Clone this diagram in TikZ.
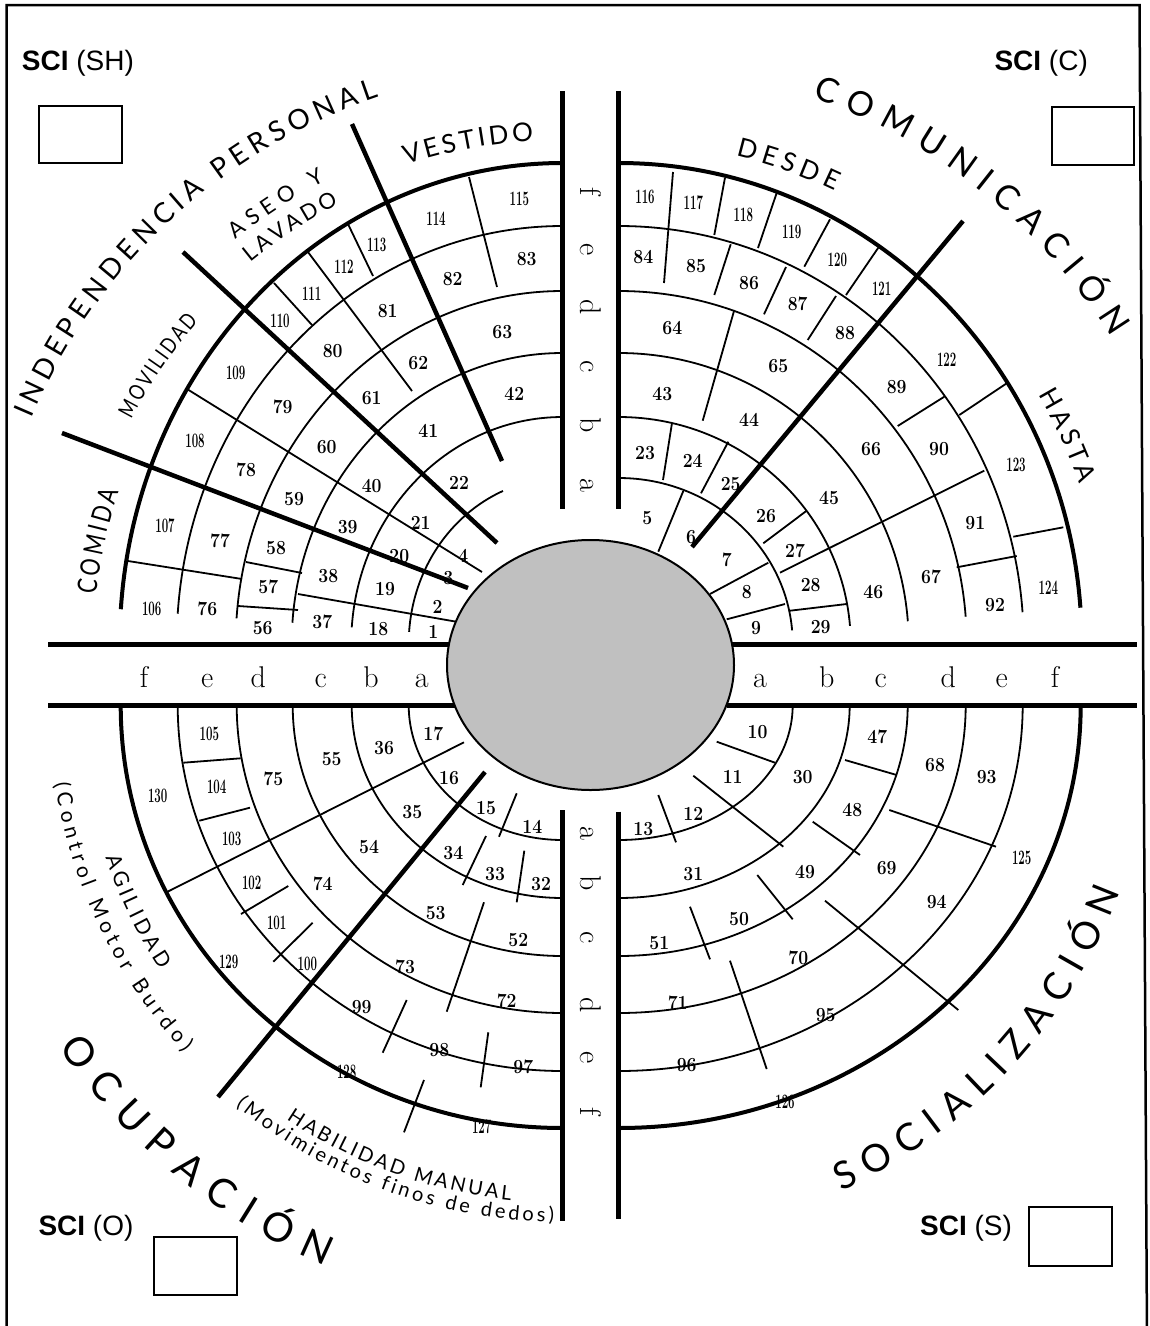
\documentclass[tikz,border=0pt]{standalone}
\usepackage{fontspec}
\usepackage{graphicx}
\usetikzlibrary{decorations.text}
\newfontfamily\lato{Lato}
\newfontfamily\latonarrow[FakeStretch=0.8]{Lato}
\newfontfamily\libsans{Liberation Sans}
\definecolor{ellgray}{RGB}{192,192,192}
\newcommand\kup{0.5523}
\newcommand\kdn{0.5523}
\newcommand\arcUL[3]{\draw[#3] (562.7,{644-#2}) .. controls ({562.7-\kup*#1},{644-#2}) and ({562.7-#1},{644-\kup*#2}) .. ({562.7-#1},644);}
\newcommand\arcUR[3]{\draw[#3] (618.7,{644-#2}) .. controls ({618.7+\kup*#1},{644-#2}) and ({618.7+#1},{644-\kup*#2}) .. ({618.7+#1},644);}
\newcommand\arcLL[3]{\draw[#3] ({562.7-#1},705) .. controls ({562.7-#1},{705+\kdn*#2}) and ({562.7-\kdn*#1},{705+#2}) .. (562.7,{705+#2});}
\newcommand\arcLR[3]{\draw[#3] ({618.7+#1},705) .. controls ({618.7+#1},{705+\kdn*#2}) and ({618.7+\kdn*#1},{705+#2}) .. (618.7,{705+#2});}
\tikzset{
  thinln/.style={line width=1.8pt},
  thickdiv/.style={line width=4.5pt},
  barln/.style={line width=5pt},
  outerarc/.style={line width=4pt},
  num/.style={font=\fontsize{20}{20}\selectfont\bfseries, inner sep=0pt},
  numc/.style={font=\fontsize{20.5}{20.5}\selectfont\bfseries, inner sep=0pt},
  bandl/.style={font=\fontsize{30}{30}\selectfont, inner sep=0pt, anchor=base},
  bandv/.style={font=\fontsize{30}{30}\selectfont, inner sep=0pt, anchor=base, rotate=-90},
  sci/.style={font=\libsans\fontsize{28}{28}\selectfont, inner sep=0pt, anchor=base west},
  scibox/.style={line width=2pt},
  curv/.style 2 args={decorate, decoration={text along path, text align={fit to path}, text={|\lato\fontsize{#1}{#1}\selectfont|#2}}},
  curvn/.style 2 args={decorate, decoration={text along path, text align={fit to path}, text={|\latonarrow\fontsize{#1}{#1}\selectfont|#2}}}
}
\begin{document}
\begin{tikzpicture}[x=1pt,y=1pt]
\begin{scope}[yscale=-1]
\useasboundingbox (0,0) rectangle (1150,1326);
% frame
\draw[line width=2.5pt] (6.7,1340) -- (6.7,5) -- (1139.5,5) -- (1147,1340);
% SCI boxes
\draw[scibox] (39.3,106) rectangle (121.7,163.3);
\draw[scibox] (1052.3,106.7) rectangle (1134.3,165);
\draw[scibox] (154.3,1237.3) rectangle (237.3,1295);
\draw[scibox] (1029.3,1207.3) rectangle (1112.3,1265.7);
\node[sci] (sciSH) at (21.7,70) {\textbf{SCI} (SH)};
\node[sci] (sciC) at (994.3,70) {\textbf{SCI} (C)};
\node[sci] (sciO) at (38.3,1235) {\textbf{SCI} (O)};
\node[sci] (sciS) at (920,1235) {\textbf{SCI} (S)};
% ---------- arcs
\begin{scope}
\clip (562.7,644) -- (-300,576.1) -- (-300,-100) -- (570,-100) -- cycle;
\arcUL{443}{481}{outerarc}
\arcUL{386}{418}{thinln}
\arcUL{327}{353}{thinln}
\arcUL{271}{291}{thinln}
\arcUL{211.5}{227}{thinln}
\end{scope}
\begin{scope}
\clip (562.7,644) -- (-300,576.1) -- (-300,-1000) -- (-78.9,-1000) -- cycle;
\arcUL{154}{166}{thinln}
\end{scope}
\begin{scope}
\clip (618.7,644) -- (1450,578.6) -- (1450,-100) -- (610,-100) -- cycle;
\arcUR{463}{481}{outerarc}
\arcUR{405}{418}{thinln}
\arcUR{348}{353}{thinln}
\arcUR{290}{291}{thinln}
\arcUR{232}{227}{thinln}
\arcUR{174}{166}{thinln}
\end{scope}
\arcLL{442}{423}{outerarc}
\arcLL{385}{366}{thinln}
\arcLL{326}{308}{thinln}
\arcLL{270}{251}{thinln}
\arcLL{211}{193}{thinln}
\arcLL{154}{135}{thinln}
\arcLR{462}{423}{outerarc}
\arcLR{404}{366}{thinln}
\arcLR{347}{308}{thinln}
\arcLR{289}{251}{thinln}
\arcLR{231}{193}{thinln}
\arcLR{174}{135}{thinln}
% ---------- thin dividers UL
\draw[thinln] (128,561) -- (242,579);
\draw[thinln] (246,562) -- (302,573);
\draw[thinln] (238,606) -- (298,610);
\draw[thinln] (298,594) -- (458,622);
\draw[thinln] (187,389) -- (482,572);
\draw[thinln] (274,283) -- (312,325);
\draw[thinln] (308,252) -- (412,391);
\draw[thinln] (348,224) -- (373,276);
\draw[thinln] (469,177) -- (497,287);
% UR
\draw[thinln] (673,172) -- (664,283);
\draw[thinln] (725,177.7) -- (714.3,235);
\draw[thinln] (777,192) -- (758,248);
\draw[thinln] (830,219.3) -- (804.3,266.7);
\draw[thinln] (878.3,247.7) -- (846,295);
\draw[thinln] (1006.7,383.3) -- (959.3,415);
\draw[thinln] (1063.3,527.3) -- (1013.3,536.7);
\draw[thinln] (730.7,244.3) -- (714.3,295);
\draw[thinln] (786,267) -- (764,314.3);
\draw[thinln] (836,296) -- (807.7,340);
\draw[thinln] (944.3,396.7) -- (897.7,426);
\draw[thinln] (984.3,470.7) -- (780,572.7);
\draw[thinln] (1016.7,556) -- (956.7,567.3);
\draw[thinln] (734.3,310) -- (702.7,420.7);
\draw[thinln] (672,423) -- (663,480);
\draw[thinln] (728.3,441.7) -- (701,493.3);
\draw[thinln] (763.3,543.3) -- (806.7,510.7);
\draw[thinln] (790,610.7) -- (846.7,604);
\draw[thinln] (683.3,491) -- (658.3,551.7);
\draw[thinln] (710,594) -- (768.3,562.7);
\draw[thinln] (726.7,619.3) -- (785,604);
% LR
\draw[thinln] (716.7,741.7) -- (775,762.7);
\draw[thinln] (693.3,775.7) -- (783.3,846.7);
\draw[thinln] (658.3,795) -- (676,842.3);
\draw[thinln] (845,760) -- (896.7,775);
\draw[thinln] (812.7,821.7) -- (860,855);
\draw[thinln] (757.3,875) -- (792.7,919.3);
\draw[thinln] (690,906.7) -- (710,959.3);
\draw[thinln] (889.3,810) -- (996,846.7);
\draw[thinln] (825,900.7) -- (958.3,1010);
\draw[thinln] (730,960.7) -- (766.7,1069);
% LL
\draw[thinln] (464,742.3) -- (167,892);
\draw[thinln] (183.3,762.7) -- (240.7,758.3);
\draw[thinln] (199.3,820.7) -- (250,807.7);
\draw[thinln] (241,914) -- (288.3,886);
\draw[thinln] (273.3,961.7) -- (312.7,922.7);
\draw[thinln] (516.7,793.3) -- (499,836.7);
\draw[thinln] (486,836) -- (462.7,885);
\draw[thinln] (524.3,850.7) -- (516.7,902.3);
\draw[thinln] (484,902.3) -- (446.7,1011.7);
\draw[thinln] (488.3,1032.3) -- (480.7,1087.3);
\draw[thinln] (406.7,1000) -- (382.7,1052.7);
\draw[thinln] (424,1080) -- (404,1132.3);
% ---------- thick dividers
\draw[thickdiv] (62,433) -- (468,588);
\draw[thickdiv] (183,252) -- (497,543);
\draw[thickdiv] (352,124) -- (502,461);
\draw[thickdiv] (963,221) -- (692,547);
\draw[thickdiv] (485,772) -- (218,1097);
% ---------- bars
\draw[barln] (562.7,91) -- (562.7,509);
\draw[barln] (618.7,91) -- (618.7,509);
\draw[barln] (562.7,810) -- (562.7,1220.7);
\draw[barln] (618.7,811.7) -- (618.7,1219);
\draw[barln] (48.3,644) -- (455,644);
\draw[barln] (48.3,705) -- (455,705);
\draw[barln] (727,644) -- (1137,644);
\draw[barln] (727,705) -- (1137,705);
% ---------- centre ellipse
\draw[line width=2pt, fill=ellgray] (590.5,665) ellipse[x radius=143.5, y radius=125];
% ---------- numbers
\foreach \n/\x/\y in {1/433.3/632.3, 2/437.7/606.7, 3/448.3/578.3, 4/463.3/556, 5/647.3/518.3, 6/691/536.7, 7/726.7/560, 8/746.7/592.3, 9/756/628.3, 10/757.5/731.7, 11/732.7/776.7, 12/693.3/814, 13/643.3/829, 14/532.3/827.3, 15/486/808.3, 16/449/777.7, 17/433.3/734,
 18/378.3/629, 19/385/589.3, 20/399.3/555.7, 21/420.7/523.3, 22/459/483.3, 23/645/453.3, 24/692.7/460.7, 25/730.7/484, 26/766/516, 27/795/550.7, 28/810.7/585, 29/820.7/626.7, 30/802.7/776.7, 31/693.3/874, 32/541/884, 33/495/874, 34/453.3/853.3, 35/412.3/811.7, 36/384/748.3,
 37/322.3/622.3, 38/328.3/575.7, 39/347.7/526.7, 40/371.7/486, 41/428.3/431, 42/514.3/394.3, 43/662.3/394, 44/749/420, 45/829/497.7, 46/873.3/591.7, 47/877.3/737.3, 48/852.3/810, 49/805/872, 50/739/919.3, 51/659.3/942.7, 52/518.3/940, 53/435.7/913.3, 54/369/846.7, 55/331.7/759.3,
 56/262.7/628.3, 57/268.3/587.3, 58/276/548.3, 59/294/499.3, 60/326.7/446.7, 61/371.7/397.7, 62/418.3/363.3, 63/502.3/331.7, 64/672.3/328.3, 65/778.3/365.7, 66/871/449.3, 67/931/576.7, 68/935/765, 69/886.7/868.3, 70/798.3/958.3, 71/677.7/1003.3, 72/506.7/1001, 73/405/966.7, 74/322.7/884, 75/273.3/779.3,
 76/207.3/609, 77/220/541, 78/246/470, 79/282.7/407.3, 80/332.7/351, 81/387.7/310.7, 82/452.7/278.7, 83/526.7/259.3, 84/643.3/257.3, 85/696/265.7, 86/749/283.3, 87/797.7/304.3, 88/845/333.3, 89/896.7/386.7, 90/939/449.3, 91/975.3/523.3, 92/995/605, 93/986.7/776.7, 94/936.7/902.3, 95/825.7/1015, 96/686.7/1065, 97/523.3/1067.3, 98/439.3/1050, 99/361.7/1006.7}
  \node[num] (n\n) at (\x,\y) {\scalebox{0.88}[1]{\n}};
\foreach \n/\x/\y in {100/307.3/964.3, 101/276.7/922.7, 102/251.7/882.7, 103/231.7/839.3, 104/216.7/787.3, 105/209.3/734,
 106/151.7/609, 107/165/525.7, 108/195/441, 109/235.7/372.7, 110/280/320.7, 111/311.7/293.3, 112/344/266.7, 113/376.7/245, 114/436/219, 115/519.3/199.3, 116/645/197.3, 117/693.3/202.3, 118/743.3/215, 119/791.7/232.3, 120/837.3/260, 121/881.7/289, 122/946.7/359.3, 123/1016/465, 124/1048.3/587.3, 125/1021.7/858.3, 126/785/1101.7, 127/481.7/1126.7, 128/346.7/1071.7, 129/228.7/962.3, 130/157.7/796}
  \node[numc] (n\n) at (\x,\y) {\scalebox{0.56}[1]{\n}};
% ---------- band letters
\foreach \l/\x in {f/144, e/207.3, d/258.3, c/320.7, b/371, a/421.7}
  \node[bandl] (hL\l) at (\x,687) {\l};
\foreach \l/\x in {a/760, b/826.7, c/880.7, d/948.3, e/1001.7, f/1055}
  \node[bandl] (hR\l) at (\x,687) {\l};
\foreach \l/\y in {f/191.7, e/249.3, d/307.3, c/366.7, b/425, a/485}
  \node[bandv] (vU\l) at (580,\y) {\l};
\foreach \l/\y in {a/833, b/883, c/938, d/1005, e/1058, f/1112}
  \node[bandv] (vD\l) at (580,\y) {\l};
\end{scope}
% ---------- curved labels (y up)
\path[curv={28}{INDEPENDENCIA PERSONAL}] ([shift={(562.7,-644)}]157:577) arc[start angle=157,end angle=108.6,radius=577];
\path[curv={34}{COMUNICACIÓN}] ([shift={(618.7,-644)}]70.5:580) arc[start angle=70.5,end angle=31.9,radius=580];
\path[curv={40}{OCUPACIÓN}] ([shift={(562.7,-705)}]214.2:609) arc[start angle=214.2,end angle=247.1,radius=609];
\path[curv={38}{SOCIALIZACIÓN}] ([shift={(618.7,-705)}]294.6:535) arc[start angle=294.6,end angle=339.6,radius=535];
\path[curvn={27}{COMIDA}] ([shift={(562.7,-644)}]174:469) arc[start angle=174,end angle=161,radius=469];
\path[curvn={22}{MOVILIDAD}] ([shift={(562.7,-644)}]152.5:486.5) arc[start angle=152.5,end angle=138.5,radius=486.5];
\path[curv={22}{ASEO Y}] ([shift={(562.7,-644)}]129:520) arc[start angle=129,end angle=117.2,radius=520];
\path[curv={22}{LAVADO}] ([shift={(562.7,-644)}]129.3:493.5) arc[start angle=129.3,end angle=117,radius=493.5];
\path[curv={26}{VESTIDO}] ([shift={(562.7,-644)}]108.1:504) arc[start angle=108.1,end angle=93.3,radius=504];
\path[curv={26}{DESDE}] ([shift={(618.7,-644)}]76.5:502) arc[start angle=76.5,end angle=64.5,radius=502];
\path[curv={26}{HASTA}] ([shift={(618.7,-644)}]30.7:488) arc[start angle=30.7,end angle=19.1,radius=488];
\path[curv={21}{AGILIDAD}] ([shift={(562.7,-705)}]198.4:482) arc[start angle=198.4,end angle=213.3,radius=482];
\path[curv={21}{(Control Motor Burdo)}] ([shift={(562.7,-705)}]188.8:514) arc[start angle=188.8,end angle=222.5,radius=514];
\path[curv={20}{HABILIDAD MANUAL}] ([shift={(562.7,-705)}]236.3:498) arc[start angle=236.3,end angle=264,radius=498];
\path[curv={20}{(Movimientos finos de dedos)}] ([shift={(562.7,-705)}]230.8:517) arc[start angle=230.8,end angle=269,radius=517];
\end{tikzpicture}
\end{document}
